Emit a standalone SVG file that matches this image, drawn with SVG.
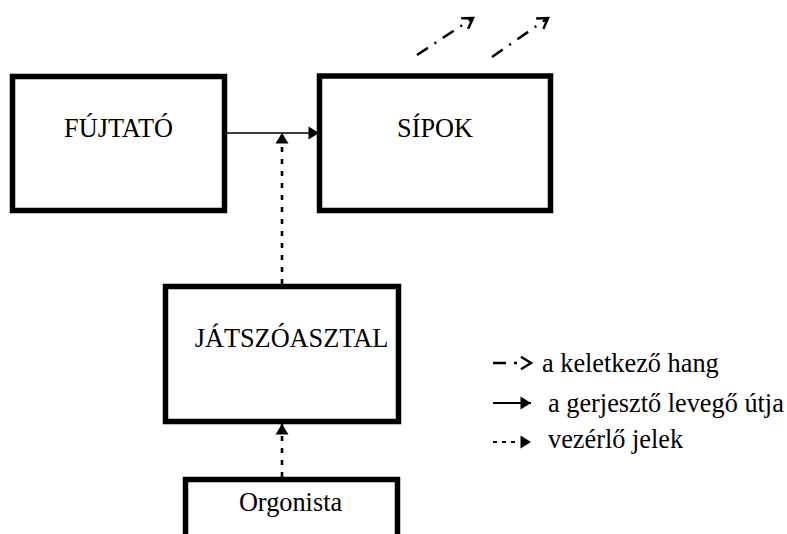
<svg xmlns="http://www.w3.org/2000/svg" width="787" height="534" viewBox="0 0 787 534">
  <style>
    .box { fill: #ffffff; stroke: #000000; stroke-width: 5.5; }
    .t { font-family: 'Liberation Serif', 'Times New Roman', serif; font-size: 26.3px; fill: #000000; }
    .air { stroke: #000000; stroke-width: 1.6; fill: none; }
    .ctrl { stroke: #000000; stroke-width: 2.6; fill: none; stroke-dasharray: 5 7; }
    .sound { stroke: #000000; stroke-width: 2.5; fill: none; stroke-dasharray: 13 8 2 8; }
  </style>
  <defs>
    <!-- filled triangular head for air and control arrows -->
    <marker id="tri" markerUnits="userSpaceOnUse" viewBox="-11 -7 12 14" refX="0" refY="0" markerWidth="12" markerHeight="14" orient="auto" overflow="visible">
      <path d="M-10.5,-6.5 L0,0 L-10.5,6.5 Z" fill="#000000"/>
    </marker>
    <!-- open chevron head for the sound arrows -->
    <marker id="chev" markerUnits="userSpaceOnUse" viewBox="-12 -8 14 16" refX="0" refY="0" markerWidth="14" markerHeight="16" orient="auto" overflow="visible">
      <path d="M-10,-6.3 L0,0 L-10,6.3" fill="none" stroke="#000000" stroke-width="2.5"/>
    </marker>
  </defs>

  <!-- connectors -->
  <g id="connectors">
    <!-- air path: bellows to pipes -->
    <line class="air" x1="227" y1="133" x2="319" y2="133" marker-end="url(#tri)"/>
    <!-- control signals: console up to the air line -->
    <line class="ctrl" x1="282" y1="284" x2="282" y2="133" marker-end="url(#tri)"/>
    <!-- control signals: organist up to the console -->
    <line class="ctrl" x1="282" y1="477" x2="282" y2="424" marker-end="url(#tri)"/>
    <!-- emitted sound from the pipes -->
    <line class="sound" x1="417" y1="55" x2="473" y2="18" marker-end="url(#chev)"/>
    <line class="sound" x1="492" y1="57" x2="548" y2="18" marker-end="url(#chev)"/>
  </g>

  <!-- nodes -->
  <g id="fujtato">
    <rect class="box" x="12.5" y="76.5" width="212" height="134"/>
    <text class="t" x="118.5" y="137" text-anchor="middle">FÚJTATÓ</text>
  </g>
  <g id="sipok">
    <rect class="box" x="319.5" y="76" width="231" height="134.5"/>
    <text class="t" x="435" y="137" text-anchor="middle">SÍPOK</text>
  </g>
  <g id="jatszoasztal">
    <rect class="box" x="165.5" y="286.5" width="233" height="135"/>
    <text class="t" x="291.5" y="347" text-anchor="middle">JÁTSZÓASZTAL</text>
  </g>
  <g id="orgonista">
    <rect class="box" x="185.5" y="479.5" width="212" height="90"/>
    <text class="t" x="290.5" y="511" text-anchor="middle">Orgonista</text>
  </g>

  <!-- legend -->
  <g id="legend">
    <path d="M493,363 H531" stroke="#000000" stroke-width="2.5" fill="none" stroke-dasharray="13 8 3 100" marker-end="url(#chev)"/>
    <text class="t" x="542" y="372">a keletkező hang</text>
    <path d="M493,403 H531" stroke="#000000" stroke-width="2" fill="none" marker-end="url(#tri)"/>
    <text class="t" x="548" y="412">a gerjesztő levegő útja</text>
    <path d="M493,442 H531" stroke="#000000" stroke-width="2" fill="none" stroke-dasharray="4 5 4 5 4 100" marker-end="url(#tri)"/>
    <text class="t" x="548" y="448">vezérlő jelek</text>
  </g>
</svg>
